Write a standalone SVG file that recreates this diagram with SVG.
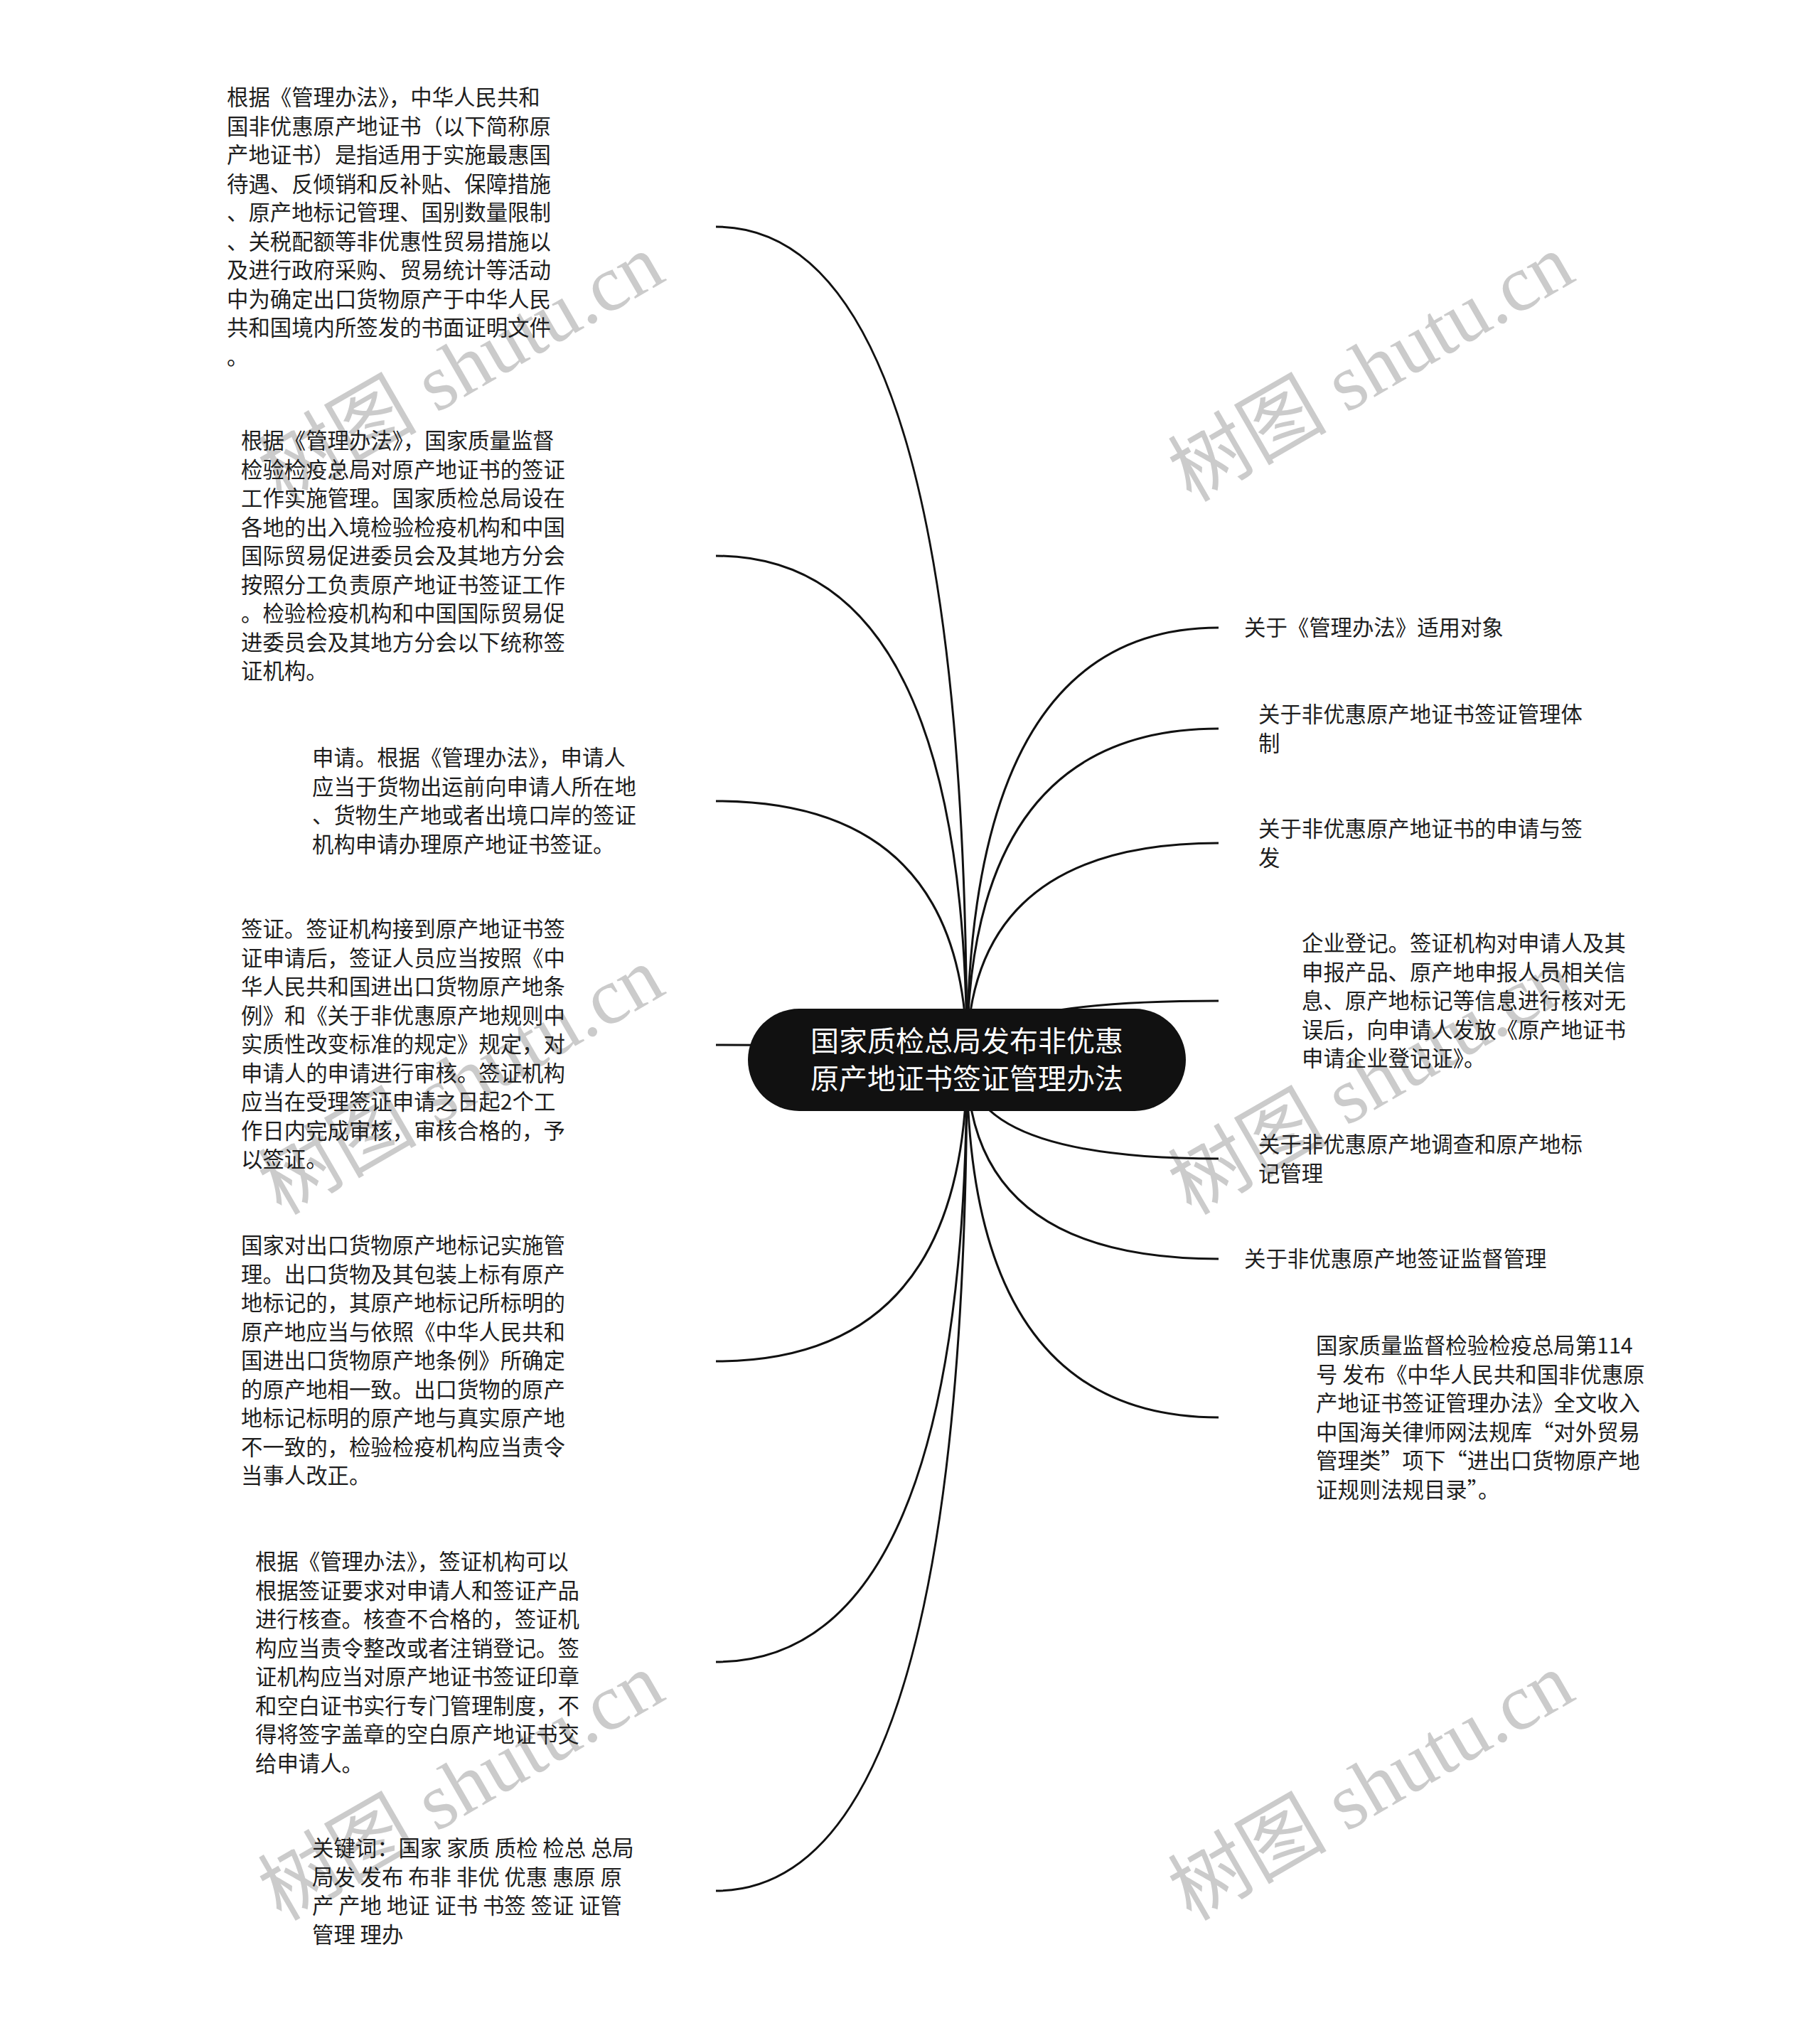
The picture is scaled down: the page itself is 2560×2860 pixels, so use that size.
<svg xmlns="http://www.w3.org/2000/svg" width="2560" height="2860" viewBox="0 0 2560 2860">
<style>
.bg{fill:#ffffff}
.wm{font-family:"Liberation Serif","Noto Sans CJK SC",serif;font-size:112px;fill:#cbcbcb}
.t{font-family:"Noto Sans CJK SC","Noto Sans",sans-serif;font-size:30.4px;fill:#1e1e1e}
.ct{font-family:"Noto Sans CJK SC","Noto Sans",sans-serif;font-size:40px;fill:#ffffff;text-anchor:middle}
.c{fill:none;stroke:#111111;stroke-width:3}
.pill{fill:#111111}
</style>
<rect class="bg" x="0" y="0" width="2560" height="2860"/>
<g id="watermarks">
<text class="wm" x="650" y="555" text-anchor="middle" transform="rotate(-30 650 520)">树图 shutu.cn</text>
<text class="wm" x="1930" y="555" text-anchor="middle" transform="rotate(-30 1930 520)">树图 shutu.cn</text>
<text class="wm" x="650" y="1558" text-anchor="middle" transform="rotate(-30 650 1523)">树图 shutu.cn</text>
<text class="wm" x="1930" y="1558" text-anchor="middle" transform="rotate(-30 1930 1523)">树图 shutu.cn</text>
<text class="wm" x="650" y="2551" text-anchor="middle" transform="rotate(-30 650 2516)">树图 shutu.cn</text>
<text class="wm" x="1930" y="2551" text-anchor="middle" transform="rotate(-30 1930 2516)">树图 shutu.cn</text>
</g>
<g id="connectors">
<path class="c" d="M1360 1491 Q1360 319 1007 319"/>
<path class="c" d="M1360 1491 Q1360 782 1007 782"/>
<path class="c" d="M1360 1491 Q1360 1127 1007 1127"/>
<path class="c" d="M1360 1491 Q1360 1470 1007 1470"/>
<path class="c" d="M1360 1491 Q1360 1915 1007 1915"/>
<path class="c" d="M1360 1491 Q1360 2338 1007 2338"/>
<path class="c" d="M1360 1491 Q1360 2660 1007 2660"/>
<path class="c" d="M1360 1491 Q1360 883 1714 883"/>
<path class="c" d="M1360 1491 Q1360 1025 1714 1025"/>
<path class="c" d="M1360 1491 Q1360 1186 1714 1186"/>
<path class="c" d="M1360 1491 Q1360 1408 1714 1408"/>
<path class="c" d="M1360 1491 Q1360 1630 1714 1630"/>
<path class="c" d="M1360 1491 Q1360 1771 1714 1771"/>
<path class="c" d="M1360 1491 Q1360 1994 1714 1994"/>
</g>
<g id="center">
<rect class="pill" x="1052" y="1419" width="616" height="144" rx="72"/>
<text class="ct"><tspan x="1360" y="1479">国家质检总局发布非优惠</tspan><tspan x="1360" y="1532">原产地证书签证管理办法</tspan></text>
</g>
<g id="L1">
<text class="t"><tspan x="319" y="148">根据《管理办法》，中华人民共和</tspan><tspan x="319" dy="40.5">国非优惠原产地证书（以下简称原</tspan><tspan x="319" dy="40.5">产地证书）是指适用于实施最惠国</tspan><tspan x="319" dy="40.5">待遇、反倾销和反补贴、保障措施</tspan><tspan x="319" dy="40.5">、原产地标记管理、国别数量限制</tspan><tspan x="319" dy="40.5">、关税配额等非优惠性贸易措施以</tspan><tspan x="319" dy="40.5">及进行政府采购、贸易统计等活动</tspan><tspan x="319" dy="40.5">中为确定出口货物原产于中华人民</tspan><tspan x="319" dy="40.5">共和国境内所签发的书面证明文件</tspan><tspan x="319" dy="40.5">。</tspan></text>
</g>
<g id="L2">
<text class="t"><tspan x="339" y="631">根据《管理办法》，国家质量监督</tspan><tspan x="339" dy="40.5">检验检疫总局对原产地证书的签证</tspan><tspan x="339" dy="40.5">工作实施管理。国家质检总局设在</tspan><tspan x="339" dy="40.5">各地的出入境检验检疫机构和中国</tspan><tspan x="339" dy="40.5">国际贸易促进委员会及其地方分会</tspan><tspan x="339" dy="40.5">按照分工负责原产地证书签证工作</tspan><tspan x="339" dy="40.5">。检验检疫机构和中国国际贸易促</tspan><tspan x="339" dy="40.5">进委员会及其地方分会以下统称签</tspan><tspan x="339" dy="40.5">证机构。</tspan></text>
</g>
<g id="L3">
<text class="t"><tspan x="439" y="1077">申请。根据《管理办法》，申请人</tspan><tspan x="439" dy="40.5">应当于货物出运前向申请人所在地</tspan><tspan x="439" dy="40.5">、货物生产地或者出境口岸的签证</tspan><tspan x="439" dy="40.5">机构申请办理原产地证书签证。</tspan></text>
</g>
<g id="L4">
<text class="t"><tspan x="339" y="1318">签证。签证机构接到原产地证书签</tspan><tspan x="339" dy="40.5">证申请后，签证人员应当按照《中</tspan><tspan x="339" dy="40.5">华人民共和国进出口货物原产地条</tspan><tspan x="339" dy="40.5">例》和《关于非优惠原产地规则中</tspan><tspan x="339" dy="40.5">实质性改变标准的规定》规定，对</tspan><tspan x="339" dy="40.5">申请人的申请进行审核。签证机构</tspan><tspan x="339" dy="40.5">应当在受理签证申请之日起2个工</tspan><tspan x="339" dy="40.5">作日内完成审核，审核合格的，予</tspan><tspan x="339" dy="40.5">以签证。</tspan></text>
</g>
<g id="L5">
<text class="t"><tspan x="339" y="1763">国家对出口货物原产地标记实施管</tspan><tspan x="339" dy="40.5">理。出口货物及其包装上标有原产</tspan><tspan x="339" dy="40.5">地标记的，其原产地标记所标明的</tspan><tspan x="339" dy="40.5">原产地应当与依照《中华人民共和</tspan><tspan x="339" dy="40.5">国进出口货物原产地条例》所确定</tspan><tspan x="339" dy="40.5">的原产地相一致。出口货物的原产</tspan><tspan x="339" dy="40.5">地标记标明的原产地与真实原产地</tspan><tspan x="339" dy="40.5">不一致的，检验检疫机构应当责令</tspan><tspan x="339" dy="40.5">当事人改正。</tspan></text>
</g>
<g id="L6">
<text class="t"><tspan x="359" y="2208">根据《管理办法》，签证机构可以</tspan><tspan x="359" dy="40.5">根据签证要求对申请人和签证产品</tspan><tspan x="359" dy="40.5">进行核查。核查不合格的，签证机</tspan><tspan x="359" dy="40.5">构应当责令整改或者注销登记。签</tspan><tspan x="359" dy="40.5">证机构应当对原产地证书签证印章</tspan><tspan x="359" dy="40.5">和空白证书实行专门管理制度，不</tspan><tspan x="359" dy="40.5">得将签字盖章的空白原产地证书交</tspan><tspan x="359" dy="40.5">给申请人。</tspan></text>
</g>
<g id="L7">
<text class="t"><tspan x="439" y="2611">关键词：国家 家质 质检 检总 总局</tspan><tspan x="439" dy="40.5">局发 发布 布非 非优 优惠 惠原 原</tspan><tspan x="439" dy="40.5">产 产地 地证 证书 书签 签证 证管</tspan><tspan x="439" dy="40.5">管理 理办</tspan></text>
</g>
<g id="R1">
<text class="t"><tspan x="1750" y="894">关于《管理办法》适用对象</tspan></text>
</g>
<g id="R2">
<text class="t"><tspan x="1770" y="1016">关于非优惠原产地证书签证管理体</tspan><tspan x="1770" dy="40.5">制</tspan></text>
</g>
<g id="R3">
<text class="t"><tspan x="1770" y="1177">关于非优惠原产地证书的申请与签</tspan><tspan x="1770" dy="40.5">发</tspan></text>
</g>
<g id="R4">
<text class="t"><tspan x="1831" y="1338">企业登记。签证机构对申请人及其</tspan><tspan x="1831" dy="40.5">申报产品、原产地申报人员相关信</tspan><tspan x="1831" dy="40.5">息、原产地标记等信息进行核对无</tspan><tspan x="1831" dy="40.5">误后，向申请人发放《原产地证书</tspan><tspan x="1831" dy="40.5">申请企业登记证》。</tspan></text>
</g>
<g id="R5">
<text class="t"><tspan x="1770" y="1621">关于非优惠原产地调查和原产地标</tspan><tspan x="1770" dy="40.5">记管理</tspan></text>
</g>
<g id="R6">
<text class="t"><tspan x="1750" y="1782">关于非优惠原产地签证监督管理</tspan></text>
</g>
<g id="R7">
<text class="t"><tspan x="1851" y="1904">国家质量监督检验检疫总局第114</tspan><tspan x="1851" dy="40.5">号 发布《中华人民共和国非优惠原</tspan><tspan x="1851" dy="40.5">产地证书签证管理办法》全文收入</tspan><tspan x="1851" dy="40.5">中国海关律师网法规库“对外贸易</tspan><tspan x="1851" dy="40.5">管理类”项下“进出口货物原产地</tspan><tspan x="1851" dy="40.5">证规则法规目录”。</tspan></text>
</g>
</svg>
